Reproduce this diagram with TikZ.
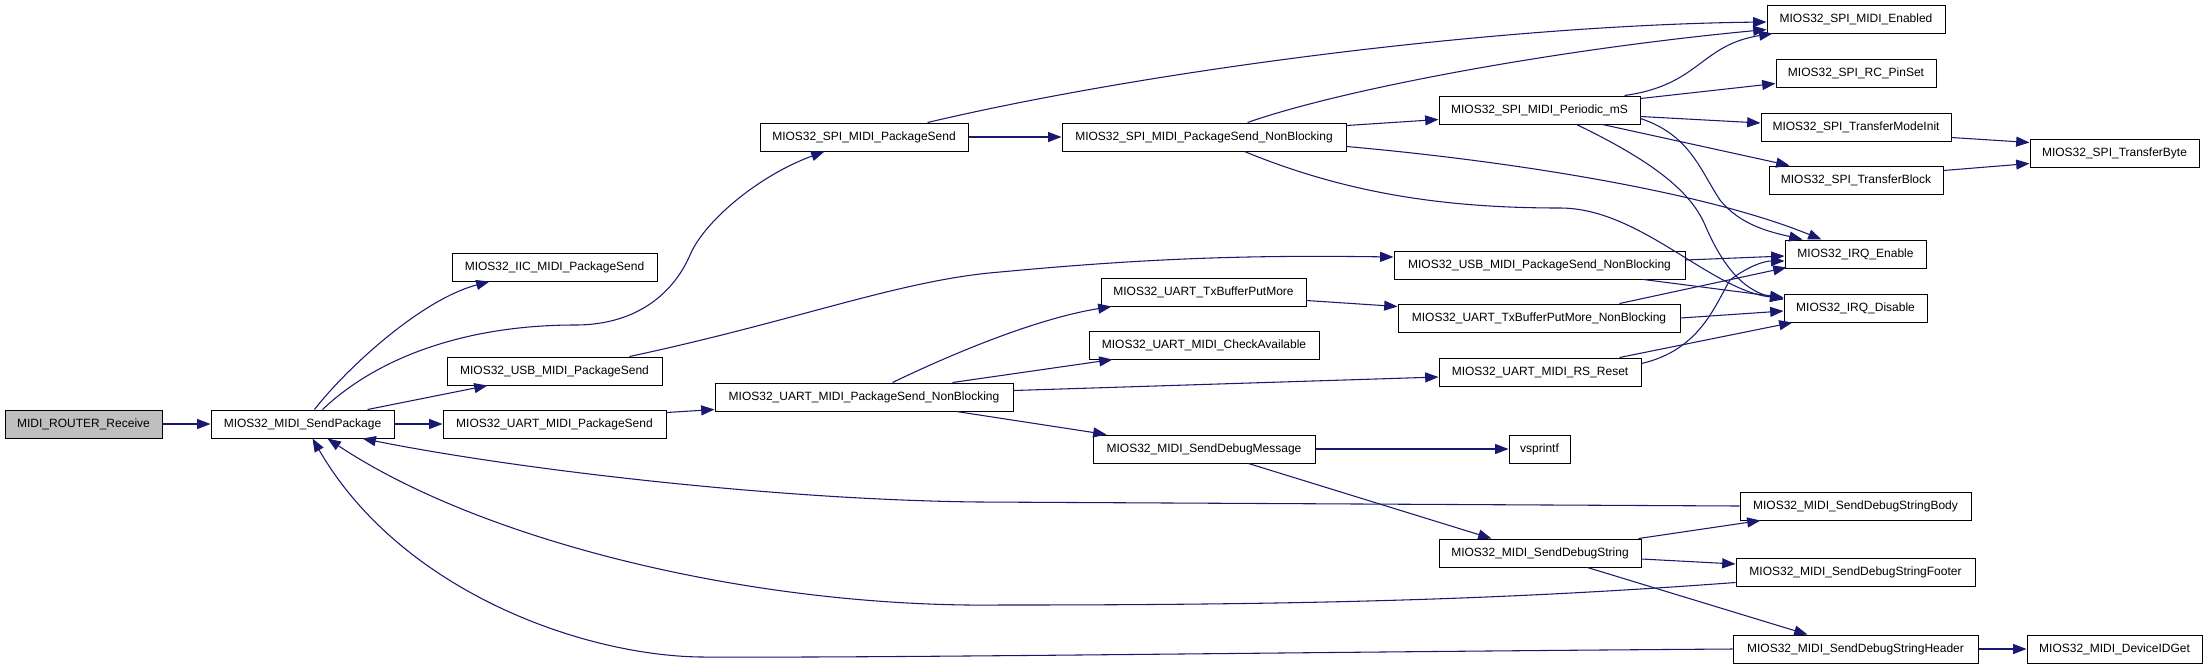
\documentclass[tikz,border=0pt]{standalone}
\usepackage{fontspec}
\setmainfont{Liberation Sans}
\usetikzlibrary{arrows.meta,calc}
\definecolor{edgeblue}{RGB}{25,25,112}
\definecolor{rootgray}{RGB}{191,191,191}
\newcommand\fnode[7][]{%
  \pgfmathsetmacro\fnW{(#5-#3)*0.75}%
  \pgfmathsetmacro\fnH{(#6-#4)*0.75}%
  \node[fn,#1,minimum width=\fnW pt,minimum height=\fnH pt] (#2) at ({(#3+#5)/2},{(#4+#6)/2}) {#7};}
\begin{document}
\begin{tikzpicture}[x=0.75pt,y=-0.75pt,
  fn/.style={draw=black,line width=0.75pt,fill=white,inner sep=0pt,
    font=\fontsize{9}{10}\selectfont,text height=6.5pt,text depth=2pt},
  call/.style={draw=edgeblue,line width=0.8pt,-{Triangle[length=10pt,width=7.5pt]}}]
\fill[white] (0,0) rectangle (2208,669);
\useasboundingbox (0,0) rectangle (2208,669);

% nodes
\fnode[fill=rootgray]{rr}{5}{410}{162}{438}{MIDI\_ROUTER\_Receive}
\fnode{sp}{211}{410}{394}{438}{MIOS32\_MIDI\_SendPackage}
\fnode{iic}{452}{253}{657}{281}{MIOS32\_IIC\_MIDI\_PackageSend}
\fnode{spips}{760}{123}{968}{151}{MIOS32\_SPI\_MIDI\_PackageSend}
\fnode{usbps}{447}{357}{662}{385}{MIOS32\_USB\_MIDI\_PackageSend}
\fnode{uartps}{443}{410}{666}{438}{MIOS32\_UART\_MIDI\_PackageSend}
\fnode{uartnb}{715}{383}{1013}{411}{MIOS32\_UART\_MIDI\_PackageSend\_NonBlocking}
\fnode{spinb}{1062}{123}{1346}{151}{MIOS32\_SPI\_MIDI\_PackageSend\_NonBlocking}
\fnode{per}{1439}{96}{1640}{124}{MIOS32\_SPI\_MIDI\_Periodic\_mS}
\fnode{usbnb}{1394}{251}{1685}{279}{MIOS32\_USB\_MIDI\_PackageSend\_NonBlocking}
\fnode{txb}{1101}{278}{1306}{306}{MIOS32\_UART\_TxBufferPutMore}
\fnode{txbnb}{1398}{304}{1680}{332}{MIOS32\_UART\_TxBufferPutMore\_NonBlocking}
\fnode{chk}{1089}{331}{1319}{359}{MIOS32\_UART\_MIDI\_CheckAvailable}
\fnode{rs}{1439}{358}{1641}{386}{MIOS32\_UART\_MIDI\_RS\_Reset}
\fnode{dbgm}{1093}{435}{1315}{463}{MIOS32\_MIDI\_SendDebugMessage}
\fnode{vsp}{1509}{435}{1570}{463}{vsprintf}
\fnode{dbgs}{1439}{539}{1641}{567}{MIOS32\_MIDI\_SendDebugString}
\fnode{body}{1740}{492}{1971}{520}{MIOS32\_MIDI\_SendDebugStringBody}
\fnode{foot}{1736}{558}{1975}{586}{MIOS32\_MIDI\_SendDebugStringFooter}
\fnode{head}{1733}{635}{1978}{663}{MIOS32\_MIDI\_SendDebugStringHeader}
\fnode{dev}{2027}{635}{2202}{663}{MIOS32\_MIDI\_DeviceIDGet}
\fnode{en}{1767}{5}{1945}{33}{MIOS32\_SPI\_MIDI\_Enabled}
\fnode{rc}{1776}{59}{1936}{87}{MIOS32\_SPI\_RC\_PinSet}
\fnode{tmi}{1761}{113}{1951}{141}{MIOS32\_SPI\_TransferModeInit}
\fnode{tbl}{1769}{166}{1943}{194}{MIOS32\_SPI\_TransferBlock}
\fnode{tby}{2030}{139}{2199}{167}{MIOS32\_SPI\_TransferByte}
\fnode{irqe}{1785}{240}{1926}{268}{MIOS32\_IRQ\_Enable}
\fnode{irqd}{1784}{294}{1927}{322}{MIOS32\_IRQ\_Disable}

% edges
\draw[call] (rr.east) -- (sp.west);
\draw[call] ($(sp.north west)+(104,0)$) .. controls (345,370) and (420,300) .. ($(iic.south west)+(38,0)$);
\draw[call] ($(sp.north west)+(112,0)$) .. controls (380,355) and (470,325) .. (575,325)
   .. controls (640,325) and (675,290) .. (690,255)
   .. controls (705,220) and (760,175) .. ($(spips.south west)+(65,0)$);
\draw[call] ($(sp.north west)+(157,0)$) -- ($(usbps.south west)+(41,0)$);
\draw[call] (sp.east) -- (uartps.west);
\draw[call] (head.west) .. controls (1300,652) and (900,658) .. (700,657)
   .. controls (580,655) and (400,590) .. ($(sp.south west)+(102,0)$);
\draw[call] ($(foot.south west)+(0,-4)$) .. controls (1500,600) and (1300,605) .. (1000,605)
   .. controls (750,608) and (480,540) .. ($(sp.south west)+(117,0)$);
\draw[call] (body.west) -- (980,502) .. controls (780,500) and (520,470) .. ($(sp.south west)+(152,0)$);

\draw[call] ($(spips.north west)+(168,0)$) .. controls (1150,70) and (1500,25) .. ($(en.west)+(0,3)$);
\draw[call] (spips.east) -- (spinb.west);
\draw[call] ($(spinb.north west)+(186,0)$) .. controls (1340,90) and (1550,50) .. ($(en.south west)+(0,-4)$);
\draw[call] ($(spinb.north east)+(0,3)$) -- ($(per.south west)+(0,-5)$);
\draw[call] ($(spinb.south east)+(0,-5)$) .. controls (1500,160) and (1700,190) .. ($(irqe.north west)+(37,0)$);
\draw[call] ($(spinb.south west)+(183,0)$) .. controls (1350,195) and (1450,208) .. (1560,208)
   .. controls (1640,208) and (1710,290) .. ($(irqd.north west)+(0,5)$);

\draw[call] ($(per.north west)+(186,0)$) .. controls (1700,85) and (1700,45) .. ($(en.south west)+(6,0)$);
\draw[call] ($(per.north east)+(0,3)$) -- ($(rc.south west)+(0,-4)$);
\draw[call] ($(per.south east)+(0,-8)$) -- ($(tmi.west)+(0,-4)$);
\draw[call] ($(per.south west)+(164,0)$) -- ($(tbl.north west)+(21,0)$);
\draw[call] ($(per.south east)+(0,-6)$) .. controls (1690,135) and (1700,170) .. (1720,200)
   .. controls (1740,225) and (1770,232) .. ($(irqe.north west)+(18,0)$);
\draw[call] ($(per.south west)+(138,0)$) .. controls (1650,160) and (1690,190) .. (1705,225)
   .. controls (1720,260) and (1740,290) .. ($(irqd.north west)+(0,6)$);

\draw[call] ($(tmi.south east)+(0,-4)$) -- ($(tby.north west)+(0,4)$);
\draw[call] ($(tbl.north east)+(0,5)$) -- ($(tby.south west)+(0,-4)$);

\draw[call] ($(usbps.north west)+(183,0)$) .. controls (800,320) and (900,280) .. (1000,272)
   .. controls (1150,258) and (1250,255) .. ($(usbnb.west)+(0,-8)$);
\draw[call] ($(usbnb.east)+(0,-5)$) -- ($(irqe.west)+(0,2)$);
\draw[call] ($(usbnb.south east)+(-42,0)$) -- ($(irqd.north west)+(0,4)$);

\draw[call] ($(uartps.north east)+(0,3)$) -- ($(uartnb.south west)+(0,-2)$);
\draw[call] ($(uartnb.north west)+(178,0)$) .. controls (960,350) and (1040,318) .. ($(txb.south west)+(11,0)$);
\draw[call] ($(uartnb.north west)+(238,0)$) -- ($(chk.south west)+(24,0)$);
\draw[call] ($(uartnb.north east)+(0,8)$) -- ($(rs.west)+(0,5)$);
\draw[call] ($(uartnb.south west)+(242,0)$) -- ($(dbgm.north west)+(14,0)$);

\draw[call] ($(txb.south east)+(0,-6)$) -- ($(txbnb.north west)+(0,3)$);
\draw[call] ($(txbnb.north west)+(222,0)$) -- ($(irqe.south west)+(2,-1)$);
\draw[call] (txbnb.east) -- ($(irqd.west)+(0,3)$);

\draw[call] ($(rs.north east)+(0,6)$) .. controls (1700,350) and (1715,305) .. (1730,280)
   .. controls (1750,265) and (1765,261) .. ($(irqe.west)+(0,7)$);
\draw[call] ($(rs.north east)+(-22,0)$) -- ($(irqd.south west)+(9,0)$);

\draw[call] (dbgm.east) -- (vsp.west);
\draw[call] ($(dbgm.south west)+(156,0)$) -- ($(dbgs.north west)+(53,0)$);
\draw[call] ($(dbgs.north east)+(-3,0)$) -- ($(body.south west)+(21,0)$);
\draw[call] ($(dbgs.east)+(0,6)$) -- ($(foot.west)+(0,-8)$);
\draw[call] ($(dbgs.south west)+(149,0)$) -- ($(head.north west)+(75,0)$);
\draw[call] (head.east) -- (dev.west);
\end{tikzpicture}
\end{document}
